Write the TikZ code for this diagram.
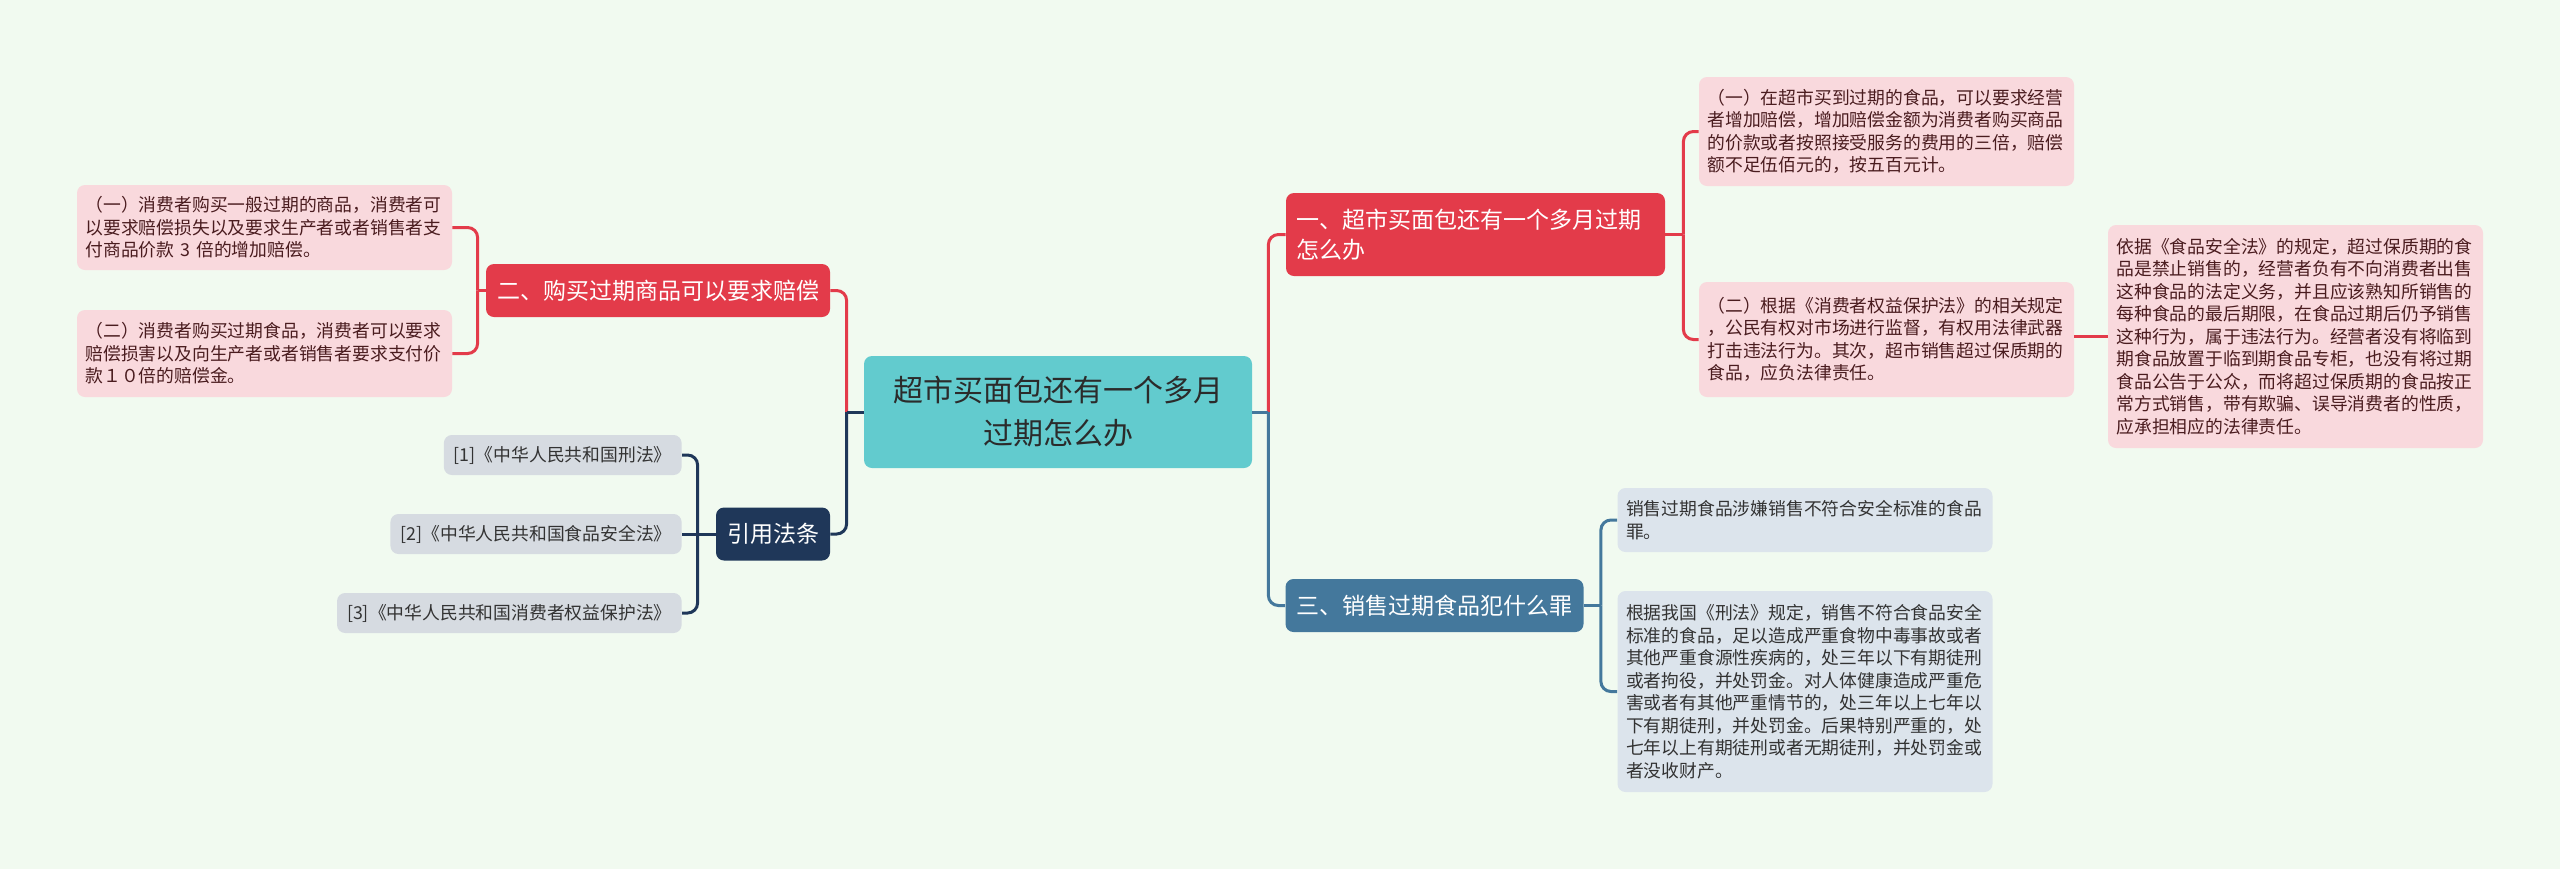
\documentclass[tikz,border=0pt]{standalone}
\usepackage{fontspec}
\newfontfamily\cjk{Noto Sans CJK SC}
\usepackage{xcolor}
\usepackage{tikz}
\usetikzlibrary{positioning, calc}
\definecolor{bgmint}{HTML}{F1FAF0}
\definecolor{rootteal}{HTML}{62CBCE}
\definecolor{roottext}{HTML}{2B2B2B}
\definecolor{branchred}{HTML}{E33B4A}
\definecolor{branchblue}{HTML}{44789C}
\definecolor{branchnavy}{HTML}{1F3759}
\definecolor{leafpink}{HTML}{F9D9DD}
\definecolor{leaftext}{HTML}{4A1C1F}
\definecolor{leafgrey}{HTML}{DCE4EC}
\definecolor{refgrey}{HTML}{D6DBE1}
\definecolor{greytext}{HTML}{333333}
\newcommand{\leaffont}{\cjk\fontsize{8.9pt}{11.25pt}\selectfont}
\newcommand{\branchfont}{\cjk\fontsize{11.5pt}{15pt}\selectfont}
\newcommand{\rootfont}{\cjk\fontsize{15pt}{21.5pt}\selectfont}
\tikzset{
  topicbox/.style={fill=rootteal, rounded corners=4pt, align=center, font=\rootfont, text=roottext, inner sep=0pt},
  branchbox/.style={rounded corners=4pt, text=white, font=\branchfont, inner xsep=5.5pt, inner ysep=0pt, minimum height=26.5pt},
  leafbox/.style={rounded corners=4pt, font=\leaffont, align=left, inner xsep=4.25pt, inner ysep=0pt, text width=179pt},
  pinkleaf/.style={leafbox, fill=leafpink, text=leaftext},
  greyleaf/.style={leafbox, fill=leafgrey, text=greytext},
  lawref/.style={rounded corners=4pt, fill=refgrey, text=greytext, font=\leaffont, inner xsep=5pt, inner ysep=0pt, minimum height=20pt},
  link/.style={line width=1.5pt},
  elbow/.style={link, rounded corners=5pt},
  linkred/.style={draw=branchred},
  linkblue/.style={draw=branchblue},
  linknavy/.style={draw=branchnavy}
}

\begin{document}
\begin{tikzpicture}[x=0.5pt, y=-0.5pt]
        % Background
        \fill[bgmint] (0,0) rectangle (2560,869);

        % Root
        \node[topicbox, minimum width=194pt, minimum height=56pt] (root) at (1058,412) {超市买面包还有一个多月\\过期怎么办};

        % Branches
        \node[branchbox, fill=branchred, align=left, inner xsep=5pt, text width=179.5pt, minimum height=41.5pt] (b1) at (1475.5,234.5) {一、超市买面包还有一个多月过期\\怎么办};
        \node[branchbox, fill=branchred] (b2) at (658,290.5) {二、购买过期商品可以要求赔偿};
        \node[branchbox, fill=branchblue] (b3) at (1434.5,605.5) {三、销售过期食品犯什么罪};
        \node[branchbox, fill=branchnavy] (b4) at (773,534) {引用法条};

        % Leaves of b1
        \node[pinkleaf, minimum height=54.5pt] (b1a) at (1886.5,131.5) {（一）在超市买到过期的食品，可以要求经营\\者增加赔偿，增加赔偿金额为消费者购买商品\\的价款或者按照接受服务的费用的三倍，赔偿\\额不足伍佰元的，按五百元计。};
        \node[pinkleaf, minimum height=57.5pt] (b1b) at (1886.5,339.5) {（二）根据《消费者权益保护法》的相关规定\\，公民有权对市场进行监督，有权用法律武器\\打击违法行为。其次，超市销售超过保质期的\\食品，应负法律责任。};
        \node[pinkleaf, minimum height=111.5pt] (b1b1) at (2295.5,336.5) {依据《食品安全法》的规定，超过保质期的食\\品是禁止销售的，经营者负有不向消费者出售\\这种食品的法定义务，并且应该熟知所销售的\\每种食品的最后期限，在食品过期后仍予销售\\这种行为，属于违法行为。经营者没有将临到\\期食品放置于临到期食品专柜，也没有将过期\\食品公告于公众，而将超过保质期的食品按正\\常方式销售，带有欺骗、误导消费者的性质，\\应承担相应的法律责任。};

        % Leaves of b2
        \node[pinkleaf, minimum height=42.5pt] (b2a) at (264.5,227.5) {（一）消费者购买一般过期的商品，消费者可\\以要求赔偿损失以及要求生产者或者销售者支\\付商品价款 3 倍的增加赔偿。};
        \node[pinkleaf, minimum height=43.5pt] (b2b) at (264.5,353.5) {（二）消费者购买过期食品，消费者可以要求\\赔偿损害以及向生产者或者销售者要求支付价\\款１０倍的赔偿金。};

        % Leaves of b3
        \node[greyleaf, minimum height=32pt] (b3a) at (1805,520) {销售过期食品涉嫌销售不符合安全标准的食品\\罪。};
        \node[greyleaf, minimum height=100.5pt] (b3b) at (1805,691.5) {根据我国《刑法》规定，销售不符合食品安全\\标准的食品，足以造成严重食物中毒事故或者\\其他严重食源性疾病的，处三年以下有期徒刑\\或者拘役，并处罚金。对人体健康造成严重危\\害或者有其他严重情节的，处三年以上七年以\\下有期徒刑，并处罚金。后果特别严重的，处\\七年以上有期徒刑或者无期徒刑，并处罚金或\\者没收财产。};

        % Law references
        \node[lawref, anchor=east] (r1) at (682,455) {[1]《中华人民共和国刑法》};
        \node[lawref, anchor=east] (r2) at (682,534) {[2]《中华人民共和国食品安全法》};
        \node[lawref, anchor=east] (r3) at (682,613) {[3]《中华人民共和国消费者权益保护法》};

        % Links from root
        \coordinate (rootL) at ($(root.west)+(-17,0)$);
        \coordinate (rootR) at ($(root.east)+(16,0)$);
        \draw[elbow, linkred] (rootL) |- (b2.east);
        \draw[elbow, linknavy] (rootL) |- (b4.east);
        \draw[link, linknavy] (root.west) -- (rootL);
        \draw[elbow, linkred] (rootR) |- (b1.west);
        \draw[elbow, linkblue] (rootR) |- (b3.west);
        \draw[link, linkblue] (root.east) -- (rootR);

        % Links to leaves
        \coordinate (b1j) at ($(b1.east)+(18,0)$);
        \draw[link, linkred] (b1.east) -- (b1j);
        \draw[elbow, linkred] (b1j) |- (b1a.west);
        \draw[elbow, linkred] (b1j) |- (b1b.west);
        \draw[link, linkred] (b1b1.west -| b1b.east) -- (b1b1.west);

        \coordinate (b2j) at ($(b2.west)+(-8,0)$);
        \draw[link, linkred] (b2.west) -- (b2j);
        \draw[elbow, linkred] (b2j) |- (b2a.east);
        \draw[elbow, linkred] (b2j) |- (b2b.east);

        \coordinate (b3j) at ($(b3.east)+(17,0)$);
        \draw[link, linkblue] (b3.east) -- (b3j);
        \draw[elbow, linkblue] (b3j) |- (b3a.west);
        \draw[elbow, linkblue] (b3j) |- (b3b.west);

        \coordinate (b4j) at ($(b4.west)+(-18,0)$);
        \draw[link, linknavy] (b4.west) -- (b4j);
        \draw[elbow, linknavy] (b4j) |- (r1.east);
        \draw[link, linknavy] (b4j) -- (r2.east);
        \draw[elbow, linknavy] (b4j) |- (r3.east);
\end{tikzpicture}
\end{document}
